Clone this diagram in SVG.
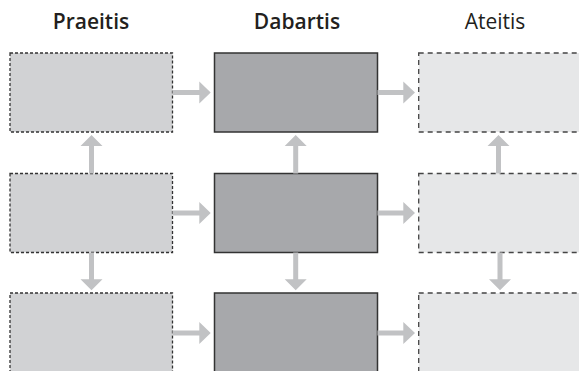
<svg xmlns="http://www.w3.org/2000/svg" width="579" height="371" viewBox="0 0 579 371">
<style>
.title{font-family:"Open Sans","Noto Sans","Liberation Sans",sans-serif;font-size:21px;fill:#231f20;text-anchor:middle}
.b{font-weight:600}
.past{fill:#d1d2d4;stroke:#333;stroke-width:1.3;stroke-dasharray:3 2}
.now{fill:#a7a8ab;stroke:#333;stroke-width:1.5}
.fut{fill:#e6e7e8;stroke:#444;stroke-width:1.3;stroke-dasharray:5 4}
.arrow{fill:#c1c2c4}
</style>
<rect width="579" height="371" fill="#fff"/>
<g id="headers">
<text class="title b" x="91" y="29">Praeitis</text>
<text class="title b" x="297" y="29">Dabartis</text>
<text class="title" x="495" y="29">Ateitis</text>
</g>
<g id="past-1"><rect class="past" x="10" y="53" width="162.5" height="79"/></g>
<g id="past-2"><rect class="past" x="10" y="173.5" width="162.5" height="79"/></g>
<g id="past-3"><rect class="past" x="10" y="293" width="162.5" height="90"/></g>
<g id="now-1"><rect class="now" x="214.5" y="53" width="163" height="79"/></g>
<g id="now-2"><rect class="now" x="214.5" y="173.5" width="163" height="79"/></g>
<g id="now-3"><rect class="now" x="214.5" y="293" width="163" height="90"/></g>
<g id="future-1"><rect class="fut" x="418.7" y="53" width="170" height="79"/></g>
<g id="future-2"><rect class="fut" x="418.7" y="173.5" width="170" height="79"/></g>
<g id="future-3"><rect class="fut" x="418.7" y="293" width="170" height="90"/></g>
<g id="connectors" class="arrow">
<path d="M172.5 90 H199.3 V81.5 L210.7 92.5 L199.3 103.5 V95 H172.5 Z"/>
<path d="M172.5 210.5 H199.3 V202 L210.7 213 L199.3 224 V215.5 H172.5 Z"/>
<path d="M172.5 330.5 H199.3 V322 L210.7 333 L199.3 344 V335.5 H172.5 Z"/>
<path d="M377.5 90 H403.3 V81.5 L415 92.5 L403.3 103.5 V95 H377.5 Z"/>
<path d="M377.5 210.5 H403.3 V202 L415 213 L403.3 224 V215.5 H377.5 Z"/>
<path d="M377.5 330.5 H403.3 V322 L415 333 L403.3 344 V335.5 H377.5 Z"/>
<path d="M89 173.5 V146 H80.5 L91.5 135 L102.5 146 H94 V173.5 Z"/>
<path d="M293.2 173.5 V146 H284.7 L295.7 135 L306.7 146 H298.2 V173.5 Z"/>
<path d="M496 173.5 V146 H487.5 L498.5 135 L509.5 146 H501 V173.5 Z"/>
<path d="M89 252.5 V279.3 H80.5 L91.5 290.3 L102.5 279.3 H94 V252.5 Z"/>
<path d="M293.2 252.5 V279.3 H284.7 L295.7 290.3 L306.7 279.3 H298.2 V252.5 Z"/>
<path d="M497.5 252.5 V279.3 H489 L500 290.3 L511 279.3 H502.5 V252.5 Z"/>
</g>
</svg>
